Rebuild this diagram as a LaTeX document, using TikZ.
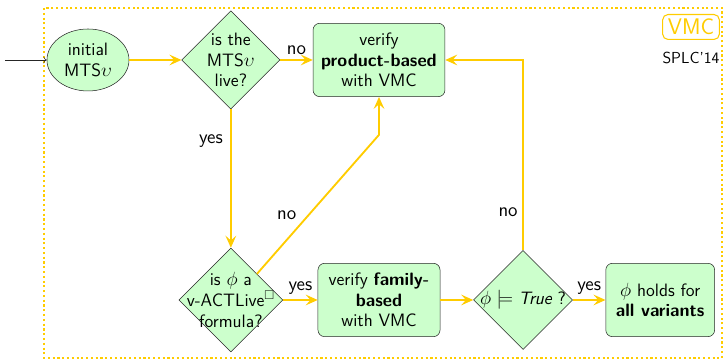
\documentclass[tikz,border=0pt]{standalone}
\usepackage{tikz}
\usetikzlibrary{positioning,arrows.meta,shapes.geometric}
\usepackage{amssymb}
\usepackage{amsmath}
\definecolor{vmcyellow}{RGB}{255,204,0}
\definecolor{vmcgreen}{RGB}{204,255,204}

\begin{document}
\begin{tikzpicture}[node distance=3.9cm, on grid, auto,
    font=\fontsize{13.5}{15.5}\selectfont\sffamily,
    startnode/.style={draw=black!85, ellipse, fill=vmcgreen, align=center,
      minimum width=2.17cm, minimum height=1.64cm, inner sep=0pt},
    box/.style={draw=black!85, rounded corners=5pt, fill=vmcgreen, align=center,
      minimum height=1.94cm},
    decision/.style={draw=black!85, diamond, aspect=1, fill=vmcgreen,
      align=center, inner sep=-10pt},
    flow/.style={draw=vmcyellow, line width=1.4pt,
      -{Stealth[length=9pt,width=8pt,inset=3.5pt]}},
    lbl/.style={font=\fontsize{14.5}{16}\selectfont\sffamily}]
    \useasboundingbox (-2.328,1.587) rectangle (16.828,-8.017);%
    \draw[vmcyellow, dotted, line width=1.6pt] (-1.164,1.376) rectangle (16.775,-7.885);%
    \node[startnode] (init) {initial\\MTS$\upsilon$};%
    \node[decision, minimum size=2.6cm] (live) [right=3.78cm of init] {is the\\MTS$\upsilon$\\live?};%
    \node[box, minimum width=3.49cm] (prod) [right=3.92cm of live] {verify\\\textbf{product-based}\\with VMC};%
    \node[decision, minimum size=2.75cm, font=\fontsize{13.5}{16}\selectfont\sffamily] (actl) [below=6.35cm of live] {is $\phi$ a\\v-ACTLive$^{\Box}$\\formula?};%
    \node[box, minimum width=3.23cm] (fam) [right=3.92cm of actl] {verify \textbf{family-}\\\textbf{based}\\with VMC};%
    \node[decision, minimum size=2.62cm] (trueq) [right=3.81cm of fam] {$\phi \models \textit{True}$ ?};%
    \node[box, minimum width=2.88cm] (holds) [right=3.63cm of trueq] {$\phi$ holds for\\\textbf{all variants}};%
    \node[draw=vmcyellow, text=vmcyellow, rounded corners=4pt, line width=0.8pt,
      font=\fontsize{17}{17}\selectfont\sffamily, minimum width=1.5cm,
      minimum height=0.66cm, inner sep=1pt] (vmc) at (15.955,0.873) {VMC};%
    \node[font=\fontsize{12}{14}\selectfont\sffamily] (splc) [below=0.82cm of vmc] {SPLC'14};%
    \coordinate[left=2.2cm of init] (start);%
    \coordinate[below=1.98cm of prod] (bend);%
    \draw[black!85, thin, ->] (start) -- (init);%
    \path[flow] (init) edge (live)%
                (live) edge node[lbl] {no} (prod)%
                (live) edge node[lbl, left=2pt, pos=0.23] {yes} (actl)%
                (actl) edge node[lbl] {yes} (fam)%
                (fam) edge (trueq)%
                (trueq) edge node[lbl] {yes} (holds);%
    \draw[flow] (actl.north east) -- node[lbl, left=5pt, pos=0.42] {no} (bend) -- (prod.south);%
    \draw[flow] (trueq.north) |- node[lbl, pos=0.1] {no} (prod.east);%
  \end{tikzpicture}
\end{document}
